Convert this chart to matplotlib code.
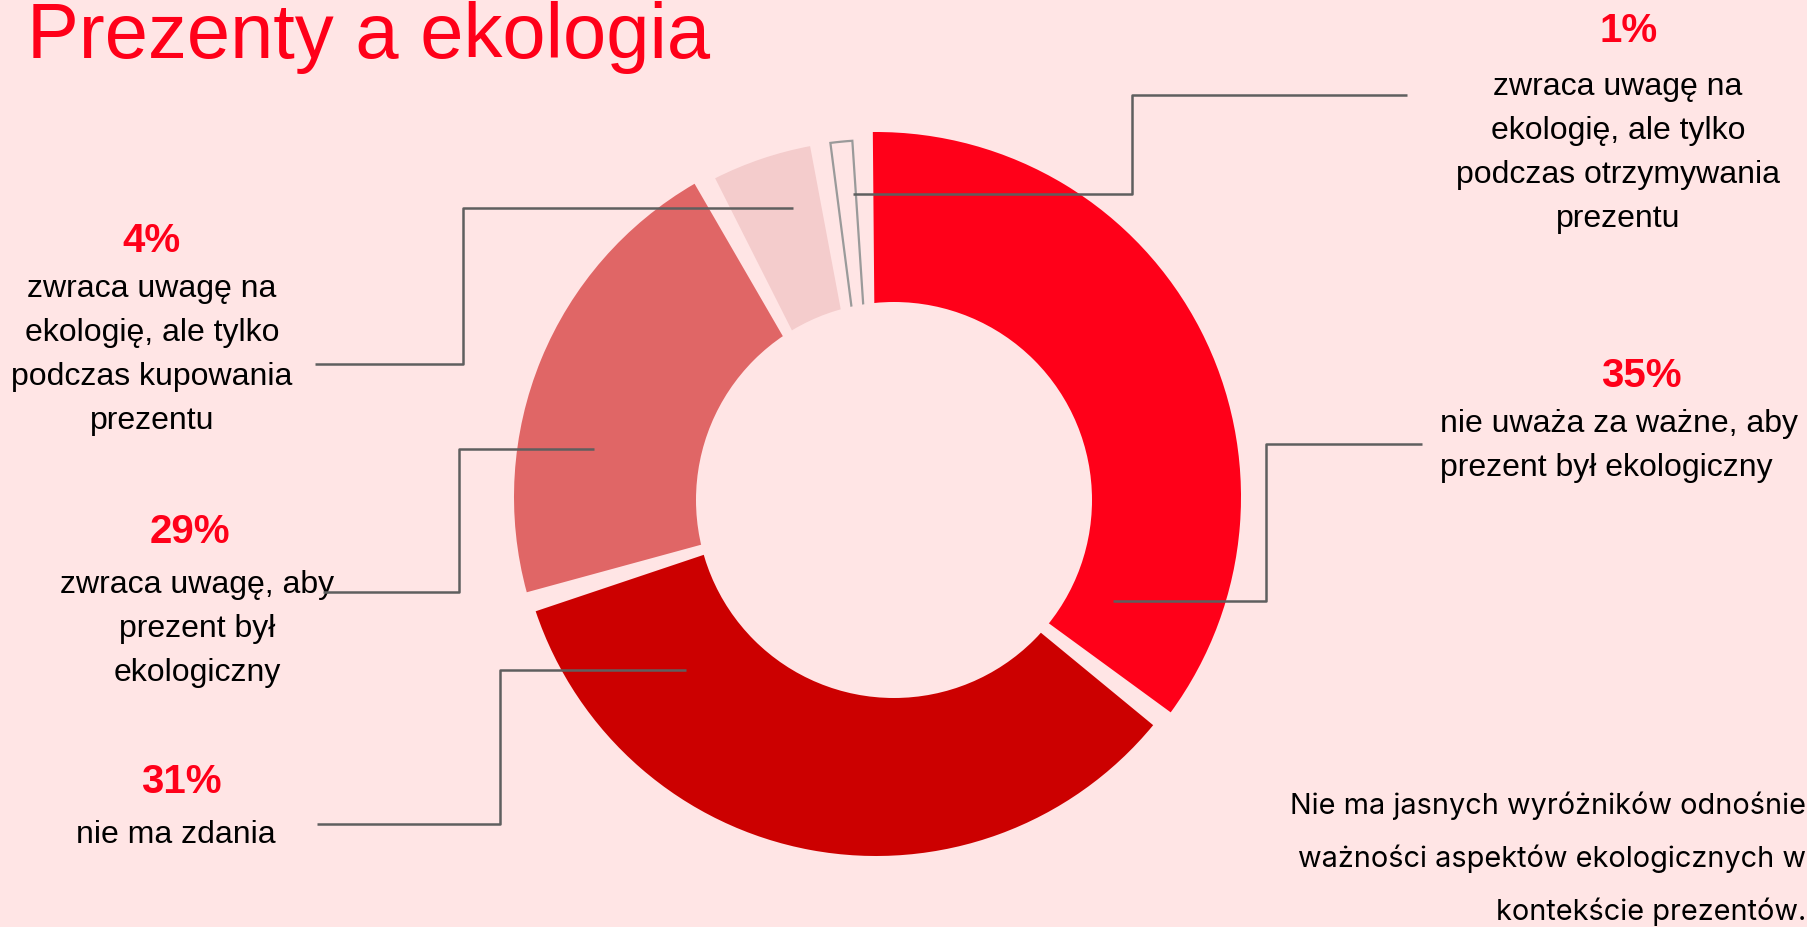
import matplotlib.pyplot as plt
from matplotlib.patches import Circle

plt.rcParams["font.family"] = ["Liberation Sans", "DejaVu Sans"]

W, H = 1808, 927
BG = "#FFE5E5"

# data
title = "Prezenty a ekologia"
pct_labels = ["35%", "31%", "29%", "4%", "1%"]
descriptions = [
    "nie uważa za ważne, aby\nprezent był ekologiczny",
    "nie ma zdania",
    "zwraca uwagę, aby\nprezent był\nekologiczny",
    "zwraca uwagę na\nekologię, ale tylko\npodczas kupowania\nprezentu",
    "zwraca uwagę na\nekologię, ale tylko\npodczas otrzymywania\nprezentu",
]
# share of the ring each slice takes in the drawing (read from the arcs)
slice_shares = [36.1, 34.8, 21.8, 5.4, 1.9]
note = ("Nie ma jasnych wyróżników odnośnie\n"
        "ważności aspektów ekologicznych w\n"
        "kontekście prezentów.")

# style / layout
colors = ["#FF0019", "#CC0000", "#E06666", "#F4CCCC", BG]
outline = [None, None, None, None, "#9A9A9A"]
radii = [365, 359, 362, 357, 357]
gap = 3.3  # degrees between slices
pie_center = (876, H - 497)
hole_center = (894, H - 500)
hole_r = 198

pct_pos = [(1641, 387), (181, 793), (190, 543), (152, 252), (1629, 42)]
body_pos = [(1440, 432, "left"), (176, 843, "center"), (197, 593, "center"),
            (152, 297, "center"), (1618, 95, "center")]
line_step = 44
leaders = [
    [(1113, 601), (1266, 601), (1266, 444), (1422, 444)],
    [(686, 670), (500, 670), (500, 824), (317, 824)],
    [(594, 449), (459, 449), (459, 592), (323, 592)],
    [(793, 208), (463, 208), (463, 364), (315, 364)],
    [(853, 194), (1132, 194), (1132, 95), (1407, 95)],
]

fig = plt.figure(figsize=(W / 100, H / 100), dpi=100, facecolor=BG)
ax = fig.add_axes([0, 0, 1, 1])
ax.set_facecolor(BG)

wedges, _ = ax.pie(slice_shares, colors=colors, startangle=90 + 2.15,
                   counterclock=False, center=pie_center, radius=361)
for w, r, ec in zip(wedges, radii, outline):
    w.set_theta1(w.theta1 + gap / 2)
    w.set_theta2(w.theta2 - gap / 2)
    w.set_radius(r)
    if ec:
        w.set_edgecolor(ec)
        w.set_linewidth(1.6)
    else:
        w.set_linewidth(0)

# the hole sits a little off-centre, as in the original
ax.add_patch(Circle(hole_center, hole_r, facecolor=BG, edgecolor="none", zorder=3))

# leader lines
for pts in leaders:
    xs = [p[0] for p in pts]
    ys = [H - p[1] for p in pts]
    ax.plot(xs, ys, color="#5F5F5F", lw=1.8, zorder=5, solid_capstyle="butt")

# labels
for pct, desc, (px, py), (bx, by, ha) in zip(pct_labels, descriptions, pct_pos, body_pos):
    ax.text(px, H - py, pct, color="#FF0019", fontsize=29, fontweight="bold",
            ha="center", va="baseline", zorder=4)
    for i, line in enumerate(desc.split("\n")):
        ax.text(bx, H - (by + i * line_step), line, color="black", fontsize=23,
                ha=ha, va="baseline", zorder=4)

ax.text(27, H - 58, title, color="#FF0019", fontsize=56, ha="left", va="baseline")

for i, line in enumerate(note.split("\n")):
    ax.text(1806, H - (814 + i * 53), line, color="black", fontsize=20.8,
            family=["Inter", "DejaVu Sans"], ha="right", va="baseline")

ax.set_xlim(0, W)
ax.set_ylim(0, H)
ax.set_aspect("auto")
ax.axis("off")

fig.savefig("out.png", dpi=100, facecolor=BG)
